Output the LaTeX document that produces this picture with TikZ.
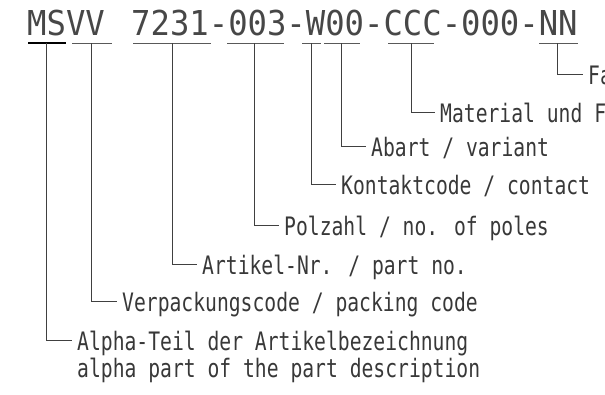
\documentclass[tikz,border=0pt]{standalone}
\usepackage{fontspec}
\usetikzlibrary{calc}
\newfontfamily\topfont[FakeStretch=0.94]{DejaVu Sans Mono}
\newfontfamily\labfont[FakeStretch=0.775]{DejaVu Sans Mono}
\tikzset{
  codetext/.style={anchor=base west, inner sep=0pt, text=black!72,
    font=\topfont\fontsize{34.3pt}{34.3pt}\selectfont},
  lab/.style={anchor=base west, inner sep=0pt, text=black!78,
    font=\labfont\fontsize{25.4pt}{28pt}\selectfont},
  uline/.style={draw=black!65, line width=0.9pt},
  ulinemain/.style={draw=black, line width=1.8pt},
  leader/.style={draw=black!75, line width=0.9pt}
}
\begin{document}
\begin{tikzpicture}[x=1pt,y=-1pt]
\useasboundingbox (0,0) rectangle (605,394);
% code string
\node[codetext] (c1) at (27,35) {MSVV};
\node[codetext] (c2) at (131,35) {7231-003-W00-CCC-000-NN};
% underline segments
\draw[ulinemain] (28,43) -- (66,43);
\draw[uline] (72,43) -- (112,43);
\draw[uline] (133,43) -- (211,43);
\draw[uline] (227,43) -- (284,43);
\draw[uline] (302,43) -- (321,43);
\draw[uline] (324,43) -- (360,43);
\draw[uline] (388,43) -- (434,43);
\draw[uline] (539,43) -- (578,43);
% connector start points (centres of underlines)
\coordinate (tMS) at (46,43);
\coordinate (tVV) at (91,43);
\coordinate (tART) at (172,43);
\coordinate (tPOL) at (254,43);
\coordinate (tW) at (311,43);
\coordinate (tAB) at (341,43);
\coordinate (tMAT) at (411,43);
\coordinate (tNN) at (557,43);
% labels
\node[lab] (lNN) at (588,84) {Fa};
\node[lab] (lMAT) at (440,122) {Material und F};
\node[lab] (lAB) at (371,156) {Abart / variant};
\node[lab] (lW) at (341,194) {Kontaktcode / contact};
\node[lab] (lPOL) at (284,235) {Polzahl / no. of poles};
\node[lab] (lART) at (202,274) {Artikel-Nr. / part no.};
\node[lab] (lVV) at (122,311) {Verpackungscode / packing code};
\node[lab] (lMS) at (77,350) {Alpha-Teil der Artikelbezeichnung};
\node[lab] (lMS2) at (77,377) {alpha part of the part description};
% leaders
\foreach \t/\l in {tNN/lNN, tMAT/lMAT, tAB/lAB, tW/lW, tPOL/lPOL, tART/lART, tVV/lVV, tMS/lMS}{
  \draw[leader] (\t) |- ($(\l.base west)+(-5,-10)$);
}
\end{tikzpicture}
\end{document}
